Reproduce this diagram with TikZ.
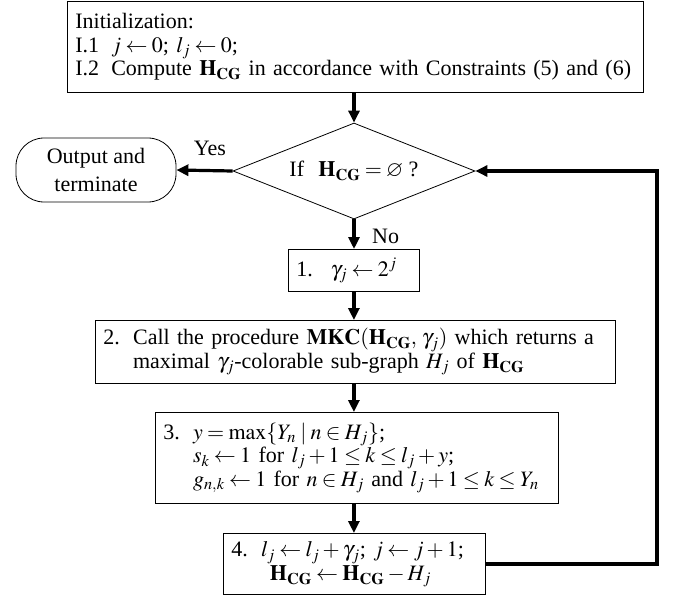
\documentclass[tikz,border=0pt]{standalone}
\usepackage{mathptmx}
\usepackage{amssymb}
\usepackage{fontspec}
\setmainfont{Liberation Serif}
\usetikzlibrary{shapes.geometric,arrows.meta}
\newcommand\HCG{\mathbf{H}_{\mathbf{CG}}}
\newcommand\fsz{\fontsize{22}{23.5}\selectfont\medmuskip=2.5mu\thickmuskip=3.5mu}
\begin{document}
\begin{tikzpicture}[x=1pt,y=-1pt,
  every node/.style={font=\fsz},
  box/.style={draw, line width=0.8pt, inner xsep=8pt, inner ysep=0pt, align=left, anchor=north west},
  arr/.style={line width=3.2pt, -{Triangle[length=12pt,width=11pt]}},
  lbl/.style={inner sep=0pt}]
\useasboundingbox (0,0) rectangle (673,597);
\node[box, text width=560pt, minimum height=91pt] (init) at (67,1)
 {Initialization:\\
  I.1\hspace{0.55em}$j\leftarrow 0$; $l_j\leftarrow 0$;\\
  I.2\hspace{0.55em}Compute $\HCG$ in accordance with Constraints (5) and (6)};
\node[diamond, draw, line width=0.8pt, inner sep=0pt, aspect=2.52, minimum width=242pt, minimum height=96pt] (dia) at (354,171)
 {If\hspace{0.4em} $\HCG = \varnothing$ ?};
\node[draw, line width=0.8pt, rounded corners=28pt, minimum width=160pt, minimum height=64pt, align=center, inner sep=0pt,
  font=\fontsize{22}{28}\selectfont] (out) at (96,170)
 {Output and\\ terminate};
\node[box, text width=115pt, minimum height=42pt] (b1) at (288,249)
 {1.\hspace{0.8em}$\gamma_j\leftarrow 2^j$};
\node[box, text width=504pt, minimum height=63pt] (b2) at (95,320)
 {\begin{tabular}{@{}l@{\hspace{0.6em}}l@{}}
  2. & Call the procedure $\mathbf{MKC}(\HCG,\,\gamma_j)$ which returns a\\
     & maximal $\gamma_j$-colorable sub-graph $H_j$ of $\HCG$
  \end{tabular}};
\node[box, text width=387pt, minimum height=91pt] (b3) at (155,412)
 {\begin{tabular}{@{}l@{\hspace{0.6em}}l@{}}
  3. & $y=\max\{Y_n \mid n\in H_j\}$;\\
     & $s_k\leftarrow 1$ for $l_j+1\le k\le l_j+y$;\\
     & $g_{n,k}\leftarrow 1$ for $n\in H_j$ and $l_j+1\le k\le Y_n$
  \end{tabular}};
\node[box, text width=246pt, minimum height=61pt] (b4) at (223,533)
 {\begin{tabular}{@{}l@{\hspace{0.6em}}l@{}}
  4. & $l_j\leftarrow l_j+\gamma_j$; $j\leftarrow j+1$;\\
     & \hspace{0.4em}$\HCG\leftarrow\HCG - H_j$
  \end{tabular}};
\node[lbl] (yes) at (210,148) {Yes};
\node[lbl, anchor=west] (no) at (372,236) {No};
\coordinate (lc) at (657,0);
\draw[arr] (dia.north |- init.south) -- (dia.north);
\draw[arr] (dia.west) -- (out.east);
\draw[arr] (dia.south) -- (dia.south |- b1.north);
\draw[arr] (b1.south) -- (b1.south |- b2.north);
\draw[arr] (b1.south |- b2.south) -- (b1.south |- b3.north);
\draw[arr] (b1.south |- b3.south) -- (b1.south |- b4.north);
\draw[arr] (b4.east) -- (b4.east -| lc) -- (lc |- dia.east) -- (dia.east);
\end{tikzpicture}
\end{document}
